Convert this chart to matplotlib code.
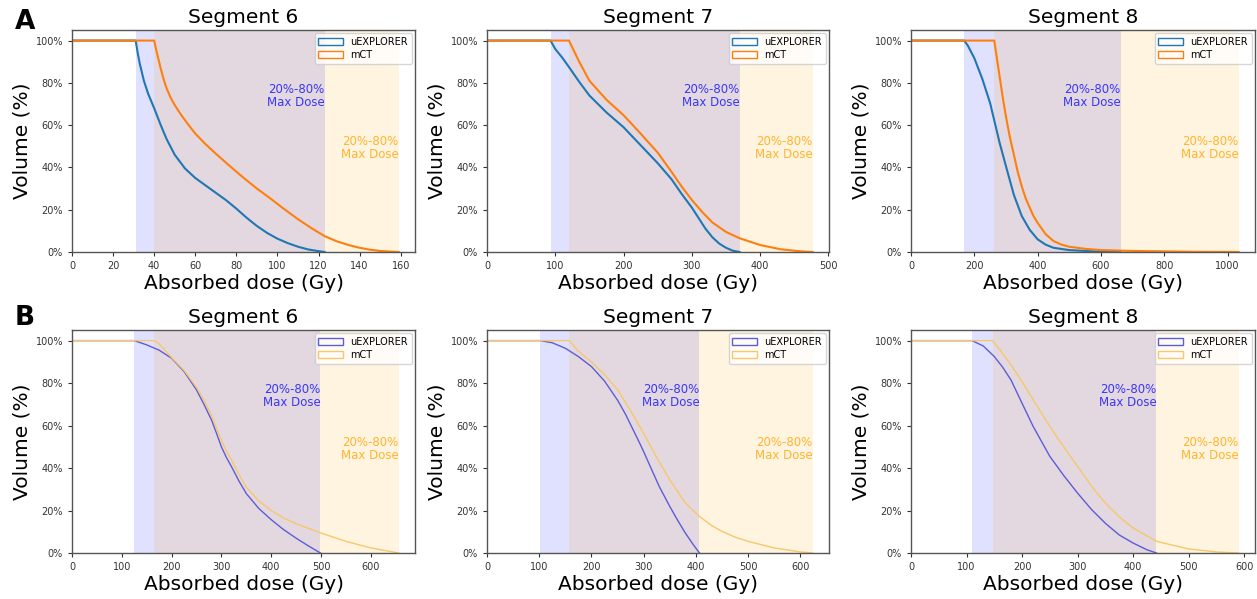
import matplotlib
matplotlib.use("Agg")
import matplotlib.pyplot as plt
from matplotlib.patches import Patch
from matplotlib.ticker import PercentFormatter

# ---------------- data ----------------
titles = ["Segment 6", "Segment 7", "Segment 8"]
series_names = ["uEXPLORER", "mCT"]
yticks = [0, 20, 40, 60, 80, 100]
xticks_A = [[0, 20, 40, 60, 80, 100, 120, 140, 160],
            [0, 100, 200, 300, 400, 500],
            [0, 200, 400, 600, 800, 1000]]
xticks_B = [[0, 100, 200, 300, 400, 500, 600],
            [0, 100, 200, 300, 400, 500, 600],
            [0, 100, 200, 300, 400, 500, 600]]

# Row A
a6_uex_dose = [0, 31, 32, 33, 35, 37, 40, 43, 46, 50, 55, 60, 65, 70, 75, 80, 85, 90, 95, 100, 105, 110, 115, 120, 123]
a6_uex_vol = [100, 100, 94, 89, 81, 75, 68, 60.5, 53.5, 46, 39.5, 35, 31.5, 28, 24.5, 20.5, 16.2, 12.3, 9, 6.3, 4.2, 2.5, 1.2, 0.4, 0]
a6_mct_dose = [0, 40, 41, 42, 43, 44.5, 46, 48, 50, 53, 56, 60, 65, 70, 77, 83, 90, 97, 103, 110, 117, 123, 129, 135, 140, 145, 150, 155, 159]
a6_mct_vol = [100, 100, 95.5, 91.5, 87.5, 82, 77.5, 73, 69.5, 65, 61, 56, 51, 46.5, 40.5, 35.5, 30, 25, 20.5, 15.5, 11, 7.5, 5, 3.2, 2, 1.1, 0.5, 0.2, 0]

a7_uex_dose = [0, 93, 100, 110, 120, 135, 150, 175, 200, 225, 250, 270, 285, 300, 310, 320, 330, 340, 350, 360, 370]
a7_uex_vol = [100, 100, 96, 92, 87.5, 80.5, 74, 66, 59, 50.5, 42, 34.5, 27.5, 21, 16, 11, 7, 4, 2, 0.6, 0]
a7_mct_dose = [0, 120, 135, 150, 175, 200, 225, 250, 270, 285, 300, 315, 330, 350, 370, 400, 430, 460, 477]
a7_mct_vol = [100, 100, 90, 81, 72, 64.7, 56, 47, 38, 31, 24.6, 19, 14, 9.5, 6.5, 3.3, 1.3, 0.3, 0]

a8_uex_dose = [0, 168, 180, 200, 225, 250, 265, 280, 300, 325, 350, 375, 400, 425, 450, 500, 550, 600, 662]
a8_uex_vol = [100, 100, 97.5, 91.7, 82, 70.4, 61, 51.6, 40.6, 27, 17, 10.5, 6, 3.5, 2, 0.9, 0.5, 0.2, 0]
a8_mct_dose = [0, 263, 270, 280, 290, 300, 312, 325, 337, 350, 362, 375, 387, 400, 425, 450, 475, 500, 550, 600, 700, 800, 900, 1035]
a8_mct_vol = [100, 100, 93, 83, 73, 64, 54.5, 46, 38, 31, 25.5, 21, 17, 13.8, 8.5, 5.2, 3.5, 2.5, 1.5, 0.9, 0.5, 0.3, 0.1, 0]

# Row B
b6_uex_dose = [0, 125, 150, 175, 200, 225, 250, 265, 280, 290, 300, 310, 320, 335, 350, 375, 400, 425, 450, 475, 499]
b6_uex_vol = [100, 100, 98, 95.5, 91.7, 85.5, 76.8, 70, 62.7, 56.5, 50, 45, 40.8, 34, 28, 21, 15.7, 11, 7, 3.3, 0]
b6_mct_dose = [0, 165, 175, 200, 225, 250, 265, 280, 290, 300, 310, 320, 335, 350, 375, 400, 425, 450, 500, 550, 600, 656]
b6_mct_vol = [100, 100, 98.5, 92, 86, 78, 72, 65, 59, 53, 48, 44, 37, 31, 24.5, 20, 16.5, 13.8, 9.4, 5.5, 2.4, 0]

b7_uex_dose = [0, 102, 125, 150, 175, 200, 225, 250, 265, 280, 290, 300, 315, 330, 350, 365, 380, 395, 407]
b7_uex_vol = [100, 100, 99, 96.4, 92.5, 87.8, 81, 72, 65.5, 58, 53, 47.8, 39.5, 31.3, 22, 15.5, 9.4, 4, 0]
b7_mct_dose = [0, 158, 175, 200, 225, 250, 275, 300, 325, 350, 380, 407, 430, 450, 475, 500, 550, 600, 624]
b7_mct_vol = [100, 100, 95, 90, 84, 77, 67, 56.4, 45, 34.5, 23.5, 17.2, 13, 10.2, 7.5, 5.5, 2.4, 0.5, 0]

b8_uex_dose = [0, 110, 130, 150, 165, 180, 200, 220, 250, 275, 300, 325, 350, 375, 400, 425, 442]
b8_uex_vol = [100, 100, 97.5, 92.5, 87.5, 81.5, 70.5, 59.6, 45.5, 36.5, 28.2, 20.5, 14, 8.5, 4.7, 1.5, 0]
b8_mct_dose = [0, 147, 165, 180, 200, 225, 250, 275, 300, 325, 350, 375, 400, 442, 500, 550, 590]
b8_mct_vol = [100, 100, 94, 88.6, 80.7, 70, 59.6, 50, 40.8, 31.5, 23.5, 17, 11.8, 5.5, 1.9, 0.5, 0]

row_A = [(a6_uex_dose, a6_uex_vol, a6_mct_dose, a6_mct_vol),
         (a7_uex_dose, a7_uex_vol, a7_mct_dose, a7_mct_vol),
         (a8_uex_dose, a8_uex_vol, a8_mct_dose, a8_mct_vol)]
row_B = [(b6_uex_dose, b6_uex_vol, b6_mct_dose, b6_mct_vol),
         (b7_uex_dose, b7_uex_vol, b7_mct_dose, b7_mct_vol),
         (b8_uex_dose, b8_uex_vol, b8_mct_dose, b8_mct_vol)]

# ---------------- figure ----------------
W, H = 1257, 599
fig = plt.figure(figsize=(W / 100, H / 100), dpi=100)

lefts = [72, 487, 911]
widths = [343, 342, 344]
row_tops = [30, 330]
row_bottoms = [252, 553]

line_styles = {
    0: dict(c_uex="#1f77b4", c_mct="#ff7f0e", lw=1.5),
    1: dict(c_uex=(0.36, 0.36, 0.85), c_mct=(0.97, 0.78, 0.42), lw=1.0),
}

def region(dose, vol):
    start = max(d for d, v in zip(dose, vol) if v >= 100)
    return start, dose[-1]

for r, (rowdata, xt) in enumerate([(row_A, xticks_A), (row_B, xticks_B)]):
    st = line_styles[r]
    for c in range(3):
        ud, uv, md, mv = rowdata[c]
        l = lefts[c] / W
        w = widths[c] / W
        b = 1 - row_bottoms[r] / H
        h = (row_bottoms[r] - row_tops[r]) / H
        ax = fig.add_axes([l, b, w, h])

        u0, u1 = region(ud, uv)
        m0, m1 = region(md, mv)
        ax.axvspan(u0, u1, color="blue", alpha=0.12, lw=0)
        ax.axvspan(m0, m1, color="orange", alpha=0.12, lw=0)

        ax.plot(ud, uv, color=st["c_uex"], lw=st["lw"])
        ax.plot(md, mv, color=st["c_mct"], lw=st["lw"])

        ax.set_xlim(0, max(md[-1], ud[-1]) * 1.05)
        ax.set_ylim(0, 105)
        ax.set_xticks(xt[c])
        ax.set_yticks(yticks)
        ax.yaxis.set_major_formatter(PercentFormatter(decimals=0))
        ax.tick_params(labelsize=7, colors="#333333", length=3, width=0.8)
        for sp in ax.spines.values():
            sp.set_color("#555555")
            sp.set_linewidth(1.0)

        ax.text(u1, 74, "20%-80%\nMax Dose", color="blue", alpha=0.75,
                ha="right", va="center", fontsize=8.5, linespacing=1.0)
        ax.text(m1, 49, "20%-80%\nMax Dose", color="orange", alpha=0.8,
                ha="right", va="center", fontsize=8.5, linespacing=1.0)

        handles = [Patch(facecolor="none", edgecolor=st["c_uex"], lw=1),
                   Patch(facecolor="none", edgecolor=st["c_mct"], lw=1)]
        ax.legend(handles, series_names, loc="upper right", fontsize=7,
                  borderaxespad=0.3, handlelength=2.5, labelspacing=0.3)

        ax.set_title(titles[c], fontsize=14.5, pad=5)
        ax.set_xlabel("Absorbed dose (Gy)", fontsize=14.5, labelpad=2)
        ax.set_ylabel("Volume (%)", fontsize=14.5, labelpad=3)

fig.text(25 / W, 1 - 22 / H, "A", fontsize=19, fontweight="bold", ha="center", va="center")
fig.text(25 / W, 1 - 318 / H, "B", fontsize=19, fontweight="bold", ha="center", va="center")

fig.savefig("out.png", dpi=100)
